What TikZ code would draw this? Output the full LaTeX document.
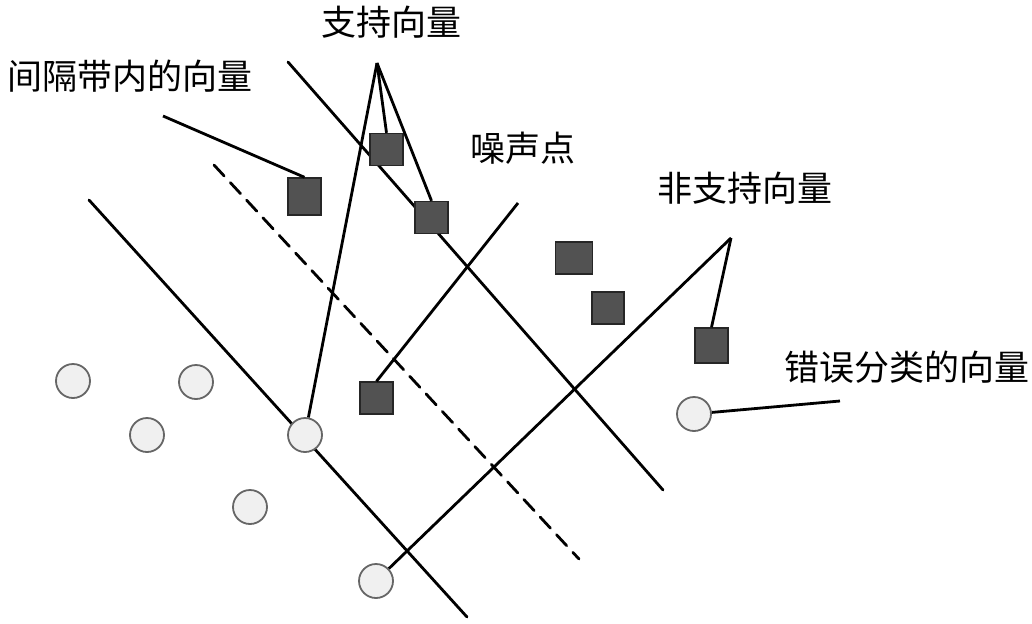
\documentclass[tikz,border=0pt]{standalone}
\usepackage{fontspec}
\newfontfamily\cjk{Noto Sans CJK SC}
\begin{document}
\begin{tikzpicture}[x=1pt,y=-1pt,
  lbl/.style={font=\cjk\fontsize{35}{37}\selectfont, anchor=base, inner sep=0pt},
  sq/.style={draw=black!85, line width=1.4pt, fill=black!68, minimum width=#1, minimum height=32pt, inner sep=0pt},
  sq/.default=33pt,
  pt/.style={circle, draw=black!60, line width=1.8pt, fill=black!6, minimum size=34pt, inner sep=0pt},
  ln/.style={line width=2.8pt, line cap=round},
  con/.style={line width=2.8pt}]
\useasboundingbox (0,0) rectangle (1032,623);
% separating lines
\draw[ln] (89,200) -- (467,617);
\draw[ln, dash pattern=on 15pt off 9pt] (214,165) -- (579,559);
\draw[ln] (288,62) -- (663,490);
% squares
\node[sq] (s1) at (386.5,149.5) {};
\node[sq] (s2) at (431.5,217.5) {};
\node[sq, minimum height=37pt] (s3) at (304.5,196.5) {};
\node[sq=37pt] (s4) at (574,258) {};
\node[sq=32pt] (s5) at (608,308) {};
\node[sq, minimum height=35pt] (s6) at (711.5,345.5) {};
\node[sq] (s7) at (376.5,398) {};
% circles
\node[pt] (c1) at (73,381) {};
\node[pt] (c2) at (196,382) {};
\node[pt] (c3) at (147,435) {};
\node[pt] (c4) at (305,435) {};
\node[pt] (c5) at (250,507) {};
\node[pt] (c6) at (376,581) {};
\node[pt] (c7) at (694,414) {};
% labels
\node[lbl] (t1) at (391,36) {支持向量};
\node[lbl] (t2) at (129.5,90) {间隔带内的向量};
\node[lbl] (t3) at (522.5,161) {噪声点};
\node[lbl] (t4) at (745,201) {非支持向量};
\node[lbl] (t5) at (906.5,380) {错误分类的向量};
% connector ends
\coordinate (a1) at (377,63);
\coordinate (a2) at (163,116);
\coordinate (a3) at (518,203);
\coordinate (a4) at (731,238);
\coordinate (a5) at (840,401);
% connectors
\draw[con] (a1) -- (c4);
\draw[con] (a1) -- (s1.north);
\draw[con] (a1) -- (s2.north);
\draw[con] (a2) -- (s3.north);
\draw[con] (a3) -- (s7.north);
\draw[con] (a4) -- (s6.north);
\draw[con] (a4) -- (c6);
\draw[con] (c7) -- (a5);
\end{tikzpicture}
\end{document}
